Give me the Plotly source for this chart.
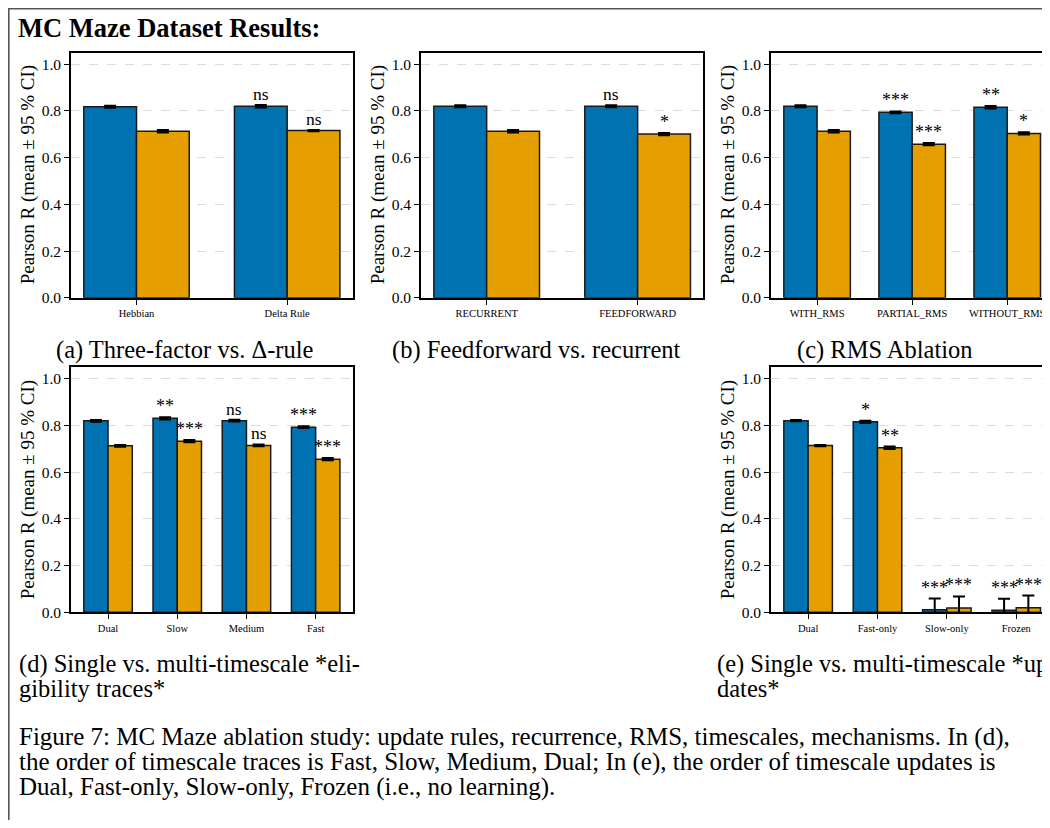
import plotly.graph_objects as go

# ---------------- data ----------------
cats_a = ["Hebbian", "Delta Rule"]
a_blue = [0.818, 0.820]
a_blue_err = [0.004, 0.005]
a_orange = [0.713, 0.716]
a_orange_err = [0.005, 0.003]
a_sig_blue = ["", "ns"]
a_sig_orange = ["", "ns"]

cats_b = ["RECURRENT", "FEEDFORWARD"]
b_blue = [0.820, 0.820]
b_blue_err = [0.004, 0.004]
b_orange = [0.713, 0.701]
b_orange_err = [0.005, 0.005]
b_sig_blue = ["", "ns"]
b_sig_orange = ["", "*"]

cats_c = ["WITH_RMS", "PARTIAL_RMS", "WITHOUT_RMS"]
c_blue = [0.820, 0.794, 0.816]
c_blue_err = [0.004, 0.004, 0.005]
c_orange = [0.713, 0.658, 0.704]
c_orange_err = [0.005, 0.005, 0.005]
c_sig_blue = ["", "***", "**"]
c_sig_orange = ["", "***", "*"]

cats_d = ["Dual", "Slow", "Medium", "Fast"]
d_blue = [0.820, 0.831, 0.821, 0.793]
d_blue_err = [0.004, 0.005, 0.004, 0.004]
d_orange = [0.713, 0.733, 0.715, 0.656]
d_orange_err = [0.004, 0.005, 0.004, 0.005]
d_sig_blue = ["", "**", "ns", "***"]
d_sig_orange = ["", "***", "ns", "***"]

cats_e = ["Dual", "Fast-only", "Slow-only", "Frozen"]
e_blue = [0.821, 0.816, 0.011, 0.009]
e_blue_err = [0.003, 0.005, 0.048, 0.049]
e_orange = [0.714, 0.705, 0.019, 0.020]
e_orange_err = [0.003, 0.005, 0.049, 0.052]
e_sig_blue = ["", "*", "***", "***"]
e_sig_orange = ["", "**", "***", "***"]

y_ticks = [0.0, 0.2, 0.4, 0.6, 0.8, 1.0]
y_title = "Pearson R (mean ± 95 % CI)"

title_text = "MC Maze Dataset Results:"
sub_a = "(a) Three-factor vs. Δ-rule"
sub_b = "(b) Feedforward vs. recurrent"
sub_c = "(c) RMS Ablation"
sub_d = ["(d) Single vs. multi-timescale *eli-", "gibility traces*"]
sub_e = ["(e) Single vs. multi-timescale *up", "dates*"]
caption_lines = [
    "Figure 7: MC Maze ablation study: update rules, recurrence, RMS, timescales, mechanisms. In (d),",
    "the order of timescale traces is Fast, Slow, Medium, Dual; In (e), the order of timescale updates is",
    "Dual, Fast-only, Slow-only, Frozen (i.e., no learning).",
]

# ---------------- style ----------------
# the page body adds an 8 px margin; the figure fills the rest of the window
OFF = 8
W, H = 1042, 820
BLUE = "#0072B2"
ORANGE = "#E69F00"
SERIF = "Liberation Serif, Times New Roman, serif"
BW = 0.35


def px_x(v):
    return (v - OFF) / W


def px_y(v):
    return 1 - (v - OFF) / H


fig = go.Figure()


def add_panel(k, cats, blue, blue_err, orange, orange_err, sig_b, sig_o,
              xpx, ypx, xrange, mirror_y, ytitle_y):
    xa = "x" if k == 1 else f"x{k}"
    ya = "y" if k == 1 else f"y{k}"
    n = len(cats)
    pos_b = [i - BW / 2 for i in range(n)]
    pos_o = [i + BW / 2 for i in range(n)]
    for pos, vals, errs, col in ((pos_b, blue, blue_err, BLUE), (pos_o, orange, orange_err, ORANGE)):
        fig.add_trace(go.Bar(
            x=pos, y=vals, width=BW, xaxis=xa, yaxis=ya,
            marker=dict(color=col, line=dict(color="#1a1a1a", width=1.5)),
            error_y=dict(type="data", array=errs, color="black", thickness=2, width=6),
            showlegend=False, hoverinfo="skip",
        ))
    for pos, vals, errs, sigs in ((pos_b, blue, blue_err, sig_b), (pos_o, orange, orange_err, sig_o)):
        for p, v, e, s in zip(pos, vals, errs, sigs):
            if not s:
                continue
            fig.add_annotation(
                x=p, y=v + e, xref=xa, yref=ya, text=s, showarrow=False,
                yanchor="bottom", xanchor="center",
                font=dict(family=SERIF, size=17.5 if s == "ns" else 18, color="black"),
                yshift=-1,
            )
    axname_x = "xaxis" if k == 1 else f"xaxis{k}"
    axname_y = "yaxis" if k == 1 else f"yaxis{k}"
    fig.layout[axname_x] = dict(
        domain=[px_x(xpx[0]), min(1.0, px_x(xpx[1]))], anchor=ya, range=xrange,
        tickvals=list(range(n)), ticktext=cats, ticks="outside", ticklen=5,
        tickwidth=1.2, tickcolor="black", showline=True, linecolor="black",
        linewidth=1.6, mirror=True, showgrid=False, zeroline=False,
        tickfont=dict(family=SERIF, size=10.5, color="black"), fixedrange=True,
    )
    fig.layout[axname_y] = dict(
        domain=[px_y(ypx[1]), px_y(ypx[0])], anchor=xa, range=[0, 1.05],
        tickvals=y_ticks, tickformat=".1f", ticks="outside", ticklen=5,
        tickwidth=1.2, tickcolor="black", showline=True, linecolor="black",
        linewidth=1.6, mirror=mirror_y, showgrid=True, gridcolor="#dcdcdc",
        griddash="dash", gridwidth=1, zeroline=False,
        tickfont=dict(family=SERIF, size=15.5, color="black"), fixedrange=True,
    )
    fig.add_annotation(
        x=px_x(xpx[0] - 43), y=px_y(ytitle_y), xref="paper", yref="paper",
        text=y_title, textangle=-90, showarrow=False, xanchor="center", yanchor="middle",
        font=dict(family=SERIF, size=19, color="black"),
    )


TOP = (53, 300.7)
BOT = (370.7, 618.3)
add_panel(1, cats_a, a_blue, a_blue_err, a_orange, a_orange_err, a_sig_blue, a_sig_orange,
          (71, 352.7), TOP, [-0.435, 1.435], True, 177)
add_panel(2, cats_b, b_blue, b_blue_err, b_orange, b_orange_err, b_sig_blue, b_sig_orange,
          (421, 703.3), TOP, [-0.435, 1.435], True, 177)
add_panel(3, cats_c, c_blue, c_blue_err, c_orange, c_orange_err, c_sig_blue, c_sig_orange,
          (771, 1050), TOP, [-0.485, 2.45], False, 177)
add_panel(4, cats_d, d_blue, d_blue_err, d_orange, d_orange_err, d_sig_blue, d_sig_orange,
          (71, 352.7), BOT, [-0.535, 3.535], True, 495)
add_panel(5, cats_e, e_blue, e_blue_err, e_orange, e_orange_err, e_sig_blue, e_sig_orange,
          (771, 1050), BOT, [-0.535, 3.487], False, 495)


def text_ann(txt, xpx, ypx, size, anchor="left", bold=False):
    fig.add_annotation(
        x=px_x(xpx), y=px_y(ypx), xref="paper", yref="paper",
        text=f"<b>{txt}</b>" if bold else txt, showarrow=False,
        xanchor=anchor, yanchor="middle",
        font=dict(family=SERIF, size=size, color="black"),
    )


text_ann(title_text, 16, 28, 26.5, bold=True)
text_ann(sub_a, 185, 353, 24.5, anchor="center")
text_ann(sub_b, 536, 353, 24.5, anchor="center")
text_ann(sub_c, 885, 353, 24.5, anchor="center")
for i, line in enumerate(sub_d):
    text_ann(line, 17, 670 + 25 * i, 24.5)
for i, line in enumerate(sub_e):
    text_ann(line, 715, 670 + 25 * i, 24.5)
for i, line in enumerate(caption_lines):
    text_ann(line, 17, 744 + 25.5 * i, 25)

# outer frame (only its top and left edges fall inside the window)
fig.add_shape(type="line", xref="paper", yref="paper",
              x0=0, x1=1.0, y0=1 - 0.8 / H, y1=1 - 0.8 / H,
              line=dict(color="#555555", width=1.6))
fig.add_shape(type="line", xref="paper", yref="paper",
              x0=0.8 / W, x1=0.8 / W, y0=0, y1=1,
              line=dict(color="#555555", width=1.6))

fig.update_layout(
    width=W, height=H, margin=dict(l=0, r=0, t=0, b=0),
    paper_bgcolor="white", plot_bgcolor="white", barmode="overlay",
    showlegend=False,
)

fig.write_html("out.html", config={"displayModeBar": False})
